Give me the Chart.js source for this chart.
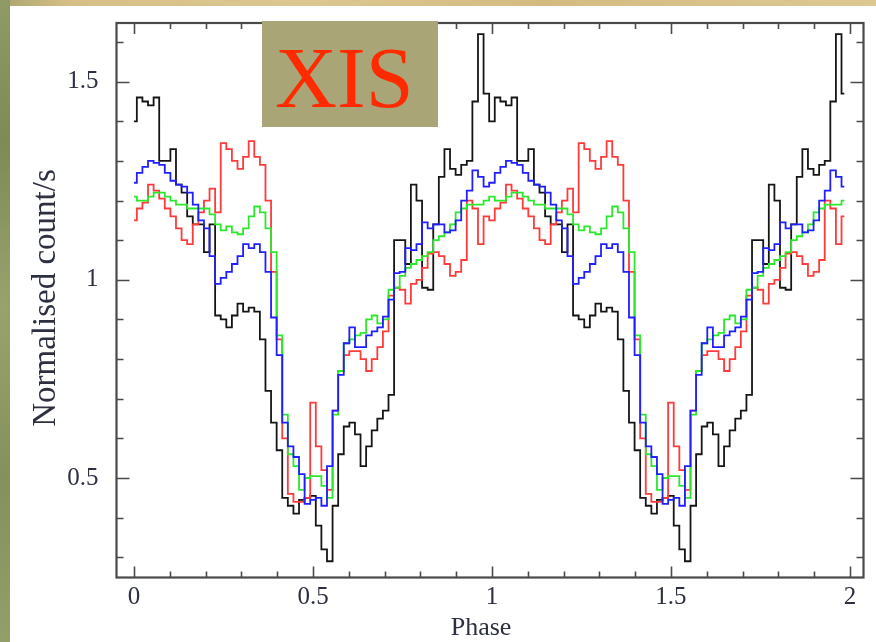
<!DOCTYPE html>
<html>
<head>
<meta charset="utf-8">
<title>XIS pulse profile</title>
<script src="https://cdn.jsdelivr.net/npm/chart.js@4.4.1/dist/chart.umd.min.js"></script>
<style>
  html, body { margin: 0; padding: 0; background: #fff; }
  #wrap { position: relative; width: 876px; height: 642px; overflow: hidden; background: #fff; }
  #topStrip { position: absolute; left: 0; top: 0; width: 876px; height: 6px;
    background: linear-gradient(90deg, #a9a56f 0%, #d6bf86 8%, #dcc791 35%, #d3bb80 62%, #ddc894 100%); }
  #leftStrip { position: absolute; left: 0; top: 0; width: 10px; height: 642px;
    background: linear-gradient(180deg, #8f9a66 0%, #7e8b57 22%, #98a26d 48%, #85915b 74%, #939f69 100%); }
  #chart { position: absolute; left: 0; top: 0; }
  #xis { position: absolute; left: 262px; top: 21px; width: 176px; height: 106px; background: #a9a577; }
  #xis span { position: absolute; left: 13px; top: 14px; font: 86px/1 'Liberation Serif', 'DejaVu Serif', serif; color: #ff2a00; }
</style>
</head>
<body>
<div id="wrap">
  <canvas id="chart" width="876" height="642"></canvas>
  <div id="topStrip"></div>
  <div id="leftStrip"></div>
  <div id="xis"><span>XIS</span></div>
</div>
<script>
'use strict';

/* ---- data: one pulse cycle, 64 phase bins, plotted twice ---- */
var BINS_PER_CYCLE = 64;
var CYCLES = 2;

var BLACK = [1.40, 1.46, 1.45, 1.44, 1.46, 1.30, 1.30, 1.33, 1.24, 1.22, 1.16, 1.14, 1.14, 1.07, 1.14, 0.91,
             0.90, 0.88, 0.91, 0.94, 0.92, 0.93, 0.92, 0.85, 0.72, 0.64, 0.57, 0.45, 0.43, 0.41, 0.445, 0.45,
             0.455, 0.38, 0.32, 0.29, 0.43, 0.56, 0.63, 0.64, 0.61, 0.53, 0.58, 0.62, 0.65, 0.67, 0.71, 1.10,
             1.10, 1.04, 1.24, 1.20, 0.98, 0.975, 1.14, 1.26, 1.33, 1.28, 1.265, 1.29, 1.30, 1.45, 1.62, 1.47];

var RED   = [1.15, 1.18, 1.195, 1.24, 1.225, 1.205, 1.18, 1.16, 1.13, 1.10, 1.09, 1.14, 1.17, 1.20, 1.23, 1.17,
             1.345, 1.33, 1.30, 1.28, 1.31, 1.35, 1.31, 1.29, 1.20, 1.02, 0.85, 0.60, 0.46, 0.44, 0.44, 0.45,
             0.69, 0.58, 0.52, 0.47, 0.67, 0.77, 0.81, 0.82, 0.82, 0.80, 0.77, 0.80, 0.83, 0.87, 0.96, 0.98,
             0.975, 0.94, 0.99, 1.00, 1.03, 1.066, 1.07, 1.06, 1.04, 1.01, 1.02, 1.05, 1.20, 1.18, 1.09, 1.16];

var GREEN = [1.21, 1.20, 1.20, 1.21, 1.22, 1.22, 1.21, 1.20, 1.19, 1.19, 1.18, 1.18, 1.18, 1.18, 1.165, 1.14,
             1.125, 1.135, 1.12, 1.115, 1.13, 1.16, 1.185, 1.17, 1.13, 1.07, 0.86, 0.66, 0.56, 0.53, 0.47, 0.50,
             0.505, 0.505, 0.48, 0.45, 0.66, 0.77, 0.84, 0.85, 0.86, 0.866, 0.90, 0.91, 0.89, 0.90, 0.975, 0.98,
             1.01, 1.03, 1.04, 1.05, 1.06, 1.07, 1.10, 1.11, 1.12, 1.14, 1.17, 1.18, 1.19, 1.19, 1.19, 1.20];

var BLUE  = [1.245, 1.27, 1.285, 1.30, 1.295, 1.29, 1.27, 1.25, 1.24, 1.235, 1.22, 1.19, 1.15, 1.13, 1.06, 0.99,
             1.005, 1.02, 1.04, 1.06, 1.09, 1.08, 1.09, 1.07, 1.02, 0.905, 0.81, 0.64, 0.58, 0.553, 0.51, 0.435,
             0.445, 0.45, 0.43, 0.53, 0.67, 0.76, 0.84, 0.88, 0.83, 0.83, 0.86, 0.87, 0.88, 0.907, 0.95, 1.017,
             1.02, 1.08, 1.075, 1.09, 1.145, 1.13, 1.14, 1.14, 1.12, 1.125, 1.15, 1.20, 1.225, 1.276, 1.26, 1.235];

var X_TICKS = [0, 0.5, 1, 1.5, 2];
var X_TICK_LABELS = ['0', '0.5', '1', '1.5', '2'];
var Y_TICKS = [0.5, 1, 1.5];
var Y_TICK_LABELS = ['0.5', '1', '1.5'];
var MINOR_STEP = 0.1;

var X_MIN = -0.049, X_MAX = 2.038;
var Y_MIN = 0.249, Y_MAX = 1.648;

var SERIF = "'Liberation Serif', 'DejaVu Serif', serif";
var LABEL_COLOR = '#2c3040';

/* ---- build the two-cycle step series ---- */
function phaseSeries(cycle) {
  var pts = [];
  for (var c = 0; c < CYCLES; c++) {
    for (var i = 0; i < cycle.length; i++) {
      pts.push({ x: (c * BINS_PER_CYCLE + i) / BINS_PER_CYCLE, y: cycle[i] });
    }
  }
  return pts;
}

function stepSet(label, values, color) {
  return {
    label: label,
    data: phaseSeries(values),
    borderColor: color,
    borderWidth: 1.8,
    pointRadius: 0,
    stepped: 'middle',
    fill: false
  };
}

/* frame box + inward ticks on all four sides */
var frameTicks = {
  id: 'frameTicks',
  afterDatasetsDraw: function (chart) {
    var ctx = chart.ctx, a = chart.chartArea, xs = chart.scales.x, ys = chart.scales.y;
    ctx.save();
    ctx.strokeStyle = '#4a4a4a';
    ctx.lineWidth = 2.2;
    ctx.strokeRect(a.left, a.top, a.right - a.left, a.bottom - a.top);
    ctx.lineWidth = 1.6;

    function isMajor(v, majors) {
      return majors.some(function (m) { return Math.abs(m - v) < 1e-6; });
    }
    ctx.beginPath();
    var k, v, p, len;
    for (k = Math.ceil(X_MIN / MINOR_STEP); k * MINOR_STEP <= X_MAX; k++) {
      v = k * MINOR_STEP;
      p = Math.round(xs.getPixelForValue(v)) + 0.5;
      len = isMajor(v, X_TICKS) ? 11 : 6;
      ctx.moveTo(p, a.bottom); ctx.lineTo(p, a.bottom - len);
      ctx.moveTo(p, a.top); ctx.lineTo(p, a.top + len);
    }
    for (k = Math.ceil(Y_MIN / MINOR_STEP); k * MINOR_STEP <= Y_MAX; k++) {
      v = k * MINOR_STEP;
      p = Math.round(ys.getPixelForValue(v)) + 0.5;
      len = isMajor(v, Y_TICKS) ? 13 : 7;
      ctx.moveTo(a.left, p); ctx.lineTo(a.left + len, p);
      ctx.moveTo(a.right, p); ctx.lineTo(a.right - len, p);
    }
    ctx.stroke();
    ctx.restore();
  }
};

/* axis titles placed where the figure has them */
var axisTitles = {
  id: 'axisTitles',
  afterDraw: function (chart) {
    var ctx = chart.ctx;
    ctx.save();
    ctx.fillStyle = LABEL_COLOR;
    ctx.textAlign = 'center';
    ctx.textBaseline = 'middle';
    ctx.font = '26px ' + SERIF;
    ctx.fillText('Phase', 481, 628);
    ctx.translate(46, 298);
    ctx.rotate(-Math.PI / 2);
    ctx.font = '33px ' + SERIF;
    ctx.fillText('Normalised count/s', 0, 0);
    ctx.restore();
  }
};

new Chart(document.getElementById('chart').getContext('2d'), {
  type: 'line',
  data: {
    datasets: [
      stepSet('blue', BLUE, '#1f1fff'),
      stepSet('green', GREEN, '#2ce82c'),
      stepSet('red', RED, '#ff3a3a'),
      stepSet('black', BLACK, '#151515')
    ]
  },
  options: {
    responsive: false,
    animation: false,
    events: [],
    layout: { padding: { left: 0, right: 12.5, top: 23, bottom: 0 } },
    plugins: { legend: { display: false }, tooltip: { enabled: false } },
    scales: {
      x: {
        type: 'linear', min: X_MIN, max: X_MAX,
        grid: { display: false, drawTicks: false, tickLength: 0 },
        border: { display: false },
        afterBuildTicks: function (s) { s.ticks = X_TICKS.map(function (v) { return { value: v }; }); },
        afterFit: function (s) { s.height = 64.5; s.paddingLeft = 0; s.paddingRight = 0; },
        ticks: {
          autoSkip: false, maxRotation: 0, padding: 5, color: LABEL_COLOR,
          font: { family: SERIF, size: 25 },
          callback: function (v) { return X_TICK_LABELS[X_TICKS.indexOf(v)]; }
        }
      },
      y: {
        type: 'linear', min: Y_MIN, max: Y_MAX,
        grid: { display: false, drawTicks: false, tickLength: 0 },
        border: { display: false },
        afterBuildTicks: function (s) { s.ticks = Y_TICKS.map(function (v) { return { value: v }; }); },
        afterFit: function (s) { s.width = 116.5; s.paddingTop = 0; s.paddingBottom = 0; },
        ticks: {
          autoSkip: false, padding: 18, color: LABEL_COLOR,
          font: { family: SERIF, size: 25 },
          callback: function (v) { return Y_TICK_LABELS[Y_TICKS.indexOf(v)]; }
        }
      }
    }
  },
  plugins: [frameTicks, axisTitles]
});
</script>
</body>
</html>
